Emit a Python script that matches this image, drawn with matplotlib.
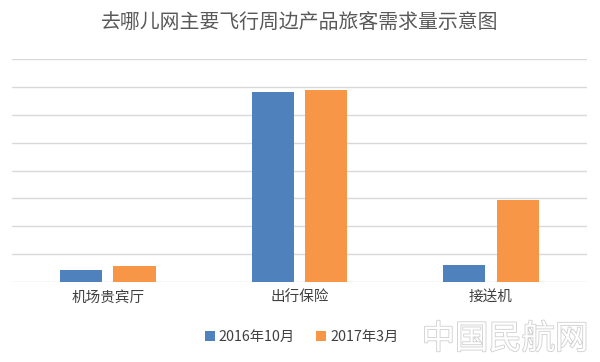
import numpy as np
import matplotlib
matplotlib.use("Agg")
import matplotlib.pyplot as plt
import matplotlib.patheffects as pe

plt.rcParams['font.family'] = ['Noto Sans CJK SC', 'DejaVu Sans']

categories = ['机场贵宾厅', '出行保险', '接送机']
series_names = ['2016年10月', '2017年3月']
values_2016_10 = [0.43, 6.83, 0.61]
values_2017_03 = [0.57, 6.88, 2.93]
colors = ['#4F81BD', '#F79646']

fig = plt.figure(figsize=(6, 3.62), dpi=100)
ax = fig.add_axes([0.02, 0.221, 0.958, 0.616])

x = np.arange(len(categories))
w = 0.22
off = 0.139
ax.bar(x - off, values_2016_10, w, color=colors[0], label=series_names[0], zorder=3)
ax.bar(x + off, values_2017_03, w, color=colors[1], label=series_names[1], zorder=3)

ax.set_xlim(-0.5, 2.5)
ax.set_ylim(0, 8)
ax.set_yticks(np.arange(0, 9, 1))
ax.set_yticklabels([])
ax.grid(axis='y', color='#d9d9d9', linewidth=1, zorder=0)
ax.tick_params(length=0)
for s in ax.spines.values():
    s.set_visible(False)
ax.set_xticks(x)
ax.set_xticklabels(categories, fontsize=10.5, color='#404040')
ax.tick_params(axis='x', pad=6)

fig.text(0.5, 0.935, '去哪儿网主要飞行周边产品旅客需求量示意图', ha='center', va='center',
         fontsize=14.3, color='#595959')

fig.legend(loc='center', bbox_to_anchor=(0.503, 0.068), ncol=2, frameon=False,
           fontsize=10.3, handlelength=0.7, handleheight=0.7, handletextpad=0.3,
           columnspacing=1.5, labelcolor='#404040')

# watermark
fig.text(0.842, 0.063, '中国民航网', ha='center', va='center', fontsize=24,
         color='white', path_effects=[pe.withStroke(linewidth=1.2, foreground='#cfcfcf')])

fig.savefig('out.png', dpi=100)
